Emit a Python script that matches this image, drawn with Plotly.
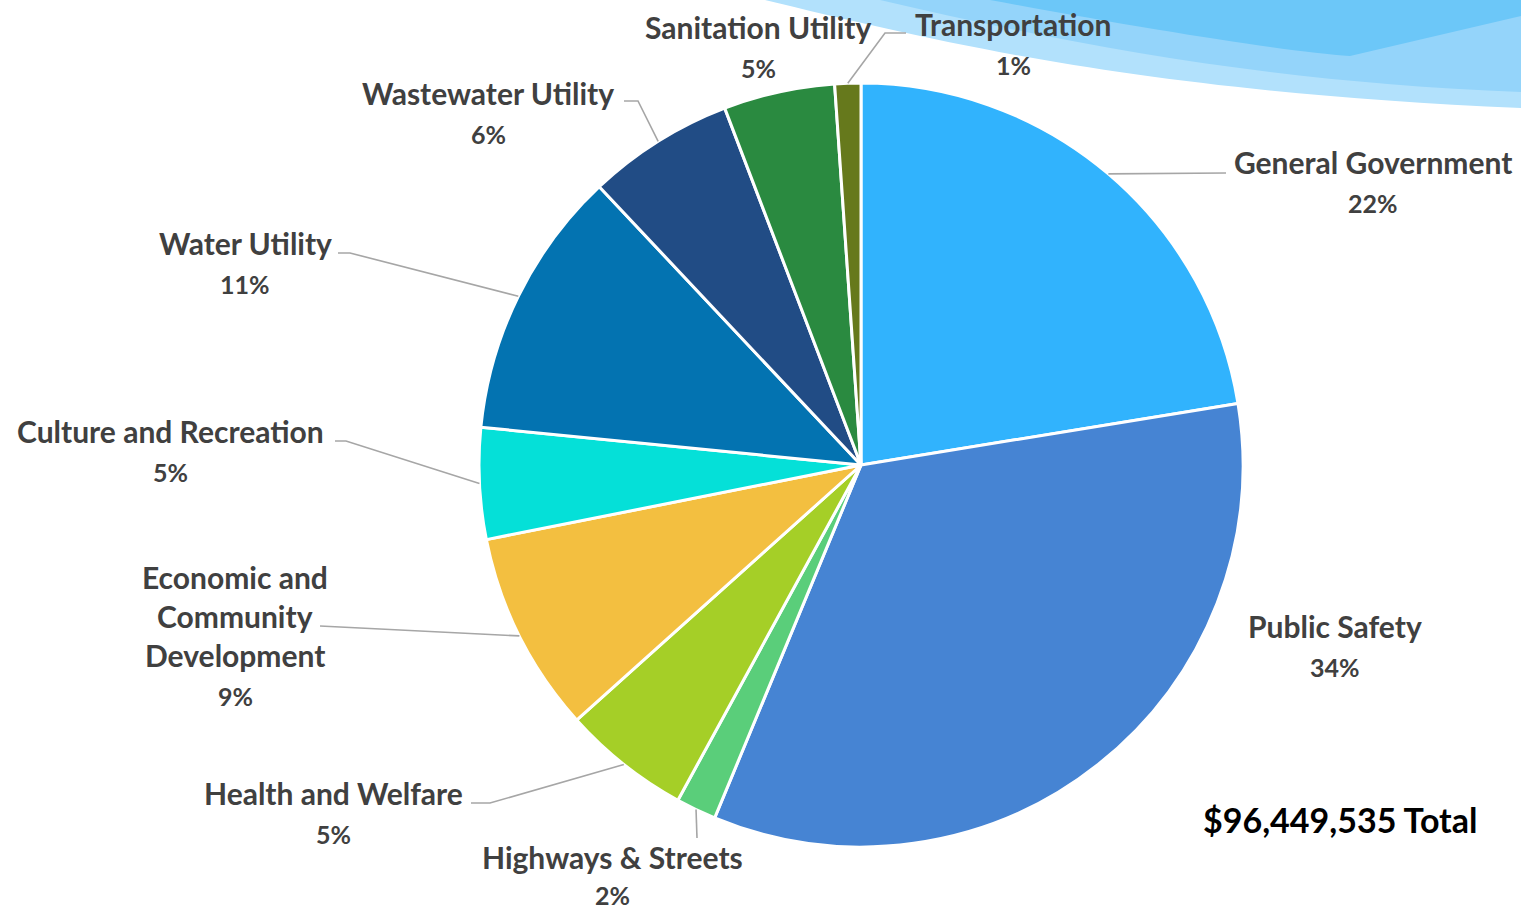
import math
import plotly.graph_objects as go

# ---------------- data ----------------
categories = ["General Government", "Public Safety", "Highways & Streets",
              "Health and Welfare", "Economic and Community Development",
              "Culture and Recreation", "Water Utility", "Wastewater Utility",
              "Sanitation Utility", "Transportation"]
shares = [22.4, 33.8, 1.7, 5.4, 8.5, 4.7, 11.4, 6.2, 4.7, 1.1]
total_text = "$96,449,535 Total"

# ---------------- style ----------------
colors = ["#31B3FD", "#4684D3", "#5ACE7A", "#A5CF27", "#F3BF40",
          "#05E0D8", "#0373B1", "#214C85", "#2A8A40", "#66791C"]

W, H = 1521, 912
CX, CY, R = 861, 465, 382          # pie centre / radius in screen pixels (layout)

label_lines = {
    "Economic and Community Development": ["Economic and", "Community", "Development"],
}
label_pos = {   # x centre, y of first line (screen px)
    "General Government": (1373, 162),
    "Public Safety": (1335, 626),
    "Highways & Streets": (612, 857),
    "Health and Welfare": (333, 793),
    "Economic and Community Development": (235, 577),
    "Culture and Recreation": (170, 431),
    "Water Utility": (245, 243),
    "Wastewater Utility": (488, 93),
    "Sanitation Utility": (758, 27),
    "Transportation": (1013, 24),
}
pct_gap = {"Highways & Streets": 38}
leader = {      # leader-line elbows after the pie-edge point (screen px)
    "General Government": [(1226, 173)],
    "Highways & Streets": [(697, 838)],
    "Health and Welfare": [(490, 803), (471, 803)],
    "Economic and Community Development": [(320, 626)],
    "Culture and Recreation": [(346, 441), (335, 441)],
    "Water Utility": [(350, 253), (338, 253)],
    "Wastewater Utility": [(638, 101), (624, 101)],
    "Transportation": [(885, 33), (906, 33)],
}
LINE_GAP = 39
PCT_GAP = 41
FONT = "Lato"


def px(x):
    return x / W


def py(y):
    return 1 - y / H


fig = go.Figure()

fig.add_trace(go.Pie(
    labels=categories, values=shares, sort=False, direction="clockwise",
    rotation=0, textinfo="none", hoverinfo="label+percent",
    marker=dict(colors=colors, line=dict(color="white", width=3)),
    domain=dict(x=[px(CX - R), px(CX + R)], y=[py(CY + R), py(CY - R)]),
    showlegend=False,
))

shapes = []
# decorative swoosh at top right
swooshes = [
    ("#B2E1FC", [(765, 0), (950, 45), (1150, 92), (1521, 108), (1521, 0)]),
    ("#94D4FA", [(880, 0), (1060, 42), (1260, 82), (1521, 92), (1521, 0)]),
    ("#6CC7F8", [(990, 0), (1150, 30), (1290, 52), (1350, 56), (1521, 16), (1521, 0)]),
]
for col, pts in swooshes:
    (x0, y0), (x1, y1), (x2, y2), (x3, y3) = pts[0], pts[1], pts[2], pts[3]
    path = (f"M {px(x0)},{py(y0)} C {px(x1)},{py(y1)} {px(x2)},{py(y2)} {px(x3)},{py(y3)} "
            + " ".join(f"L {px(a)},{py(b)}" for a, b in pts[4:]) + " Z")
    shapes.append(dict(type="path", xref="paper", yref="paper", path=path,
                       fillcolor=col, line=dict(width=0), layer="below"))

annotations = []
tot = sum(shares)
cum = 0.0
for cat, v in zip(categories, shares):
    mid = (cum + v / 2) / tot * 2 * math.pi
    cum += v
    ex, ey = CX + R * math.sin(mid), CY - R * math.cos(mid)
    if cat in leader:
        pts = [(ex, ey)] + leader[cat]
        path = "M " + " L ".join(f"{px(a)},{py(b)}" for a, b in pts)
        shapes.append(dict(type="path", xref="paper", yref="paper", path=path,
                           line=dict(color="#A6A6A6", width=1.6)))
    lx, ly = label_pos[cat]
    lines = label_lines.get(cat, [cat])
    for i, t in enumerate(lines):
        annotations.append(dict(x=px(lx), y=py(ly + i * LINE_GAP), xref="paper", yref="paper",
                                text=f"<b>{t}</b>", showarrow=False, xanchor="center",
                                yanchor="middle", font=dict(family=FONT, size=30, color="#404040")))
    pct = round(v / tot * 100)
    gap = pct_gap.get(cat, PCT_GAP)
    annotations.append(dict(x=px(lx), y=py(ly + (len(lines) - 1) * LINE_GAP + gap),
                            xref="paper", yref="paper", text=f"<b>{pct}%</b>", showarrow=False,
                            xanchor="center", yanchor="middle",
                            font=dict(family=FONT, size=25, color="#404040")))

annotations.append(dict(x=px(1340), y=py(819), xref="paper", yref="paper",
                        text=f"<b>{total_text}</b>", showarrow=False, xanchor="center",
                        yanchor="middle", font=dict(family=FONT, size=34, color="#000000")))

fig.update_layout(
    width=W, height=H, margin=dict(l=0, r=0, t=0, b=0),
    paper_bgcolor="white", plot_bgcolor="white",
    shapes=shapes, annotations=annotations,
)

fig.write_html("out.html", config={"displayModeBar": False},
               post_script="document.body.style.margin='0';document.body.style.overflow='hidden';")
